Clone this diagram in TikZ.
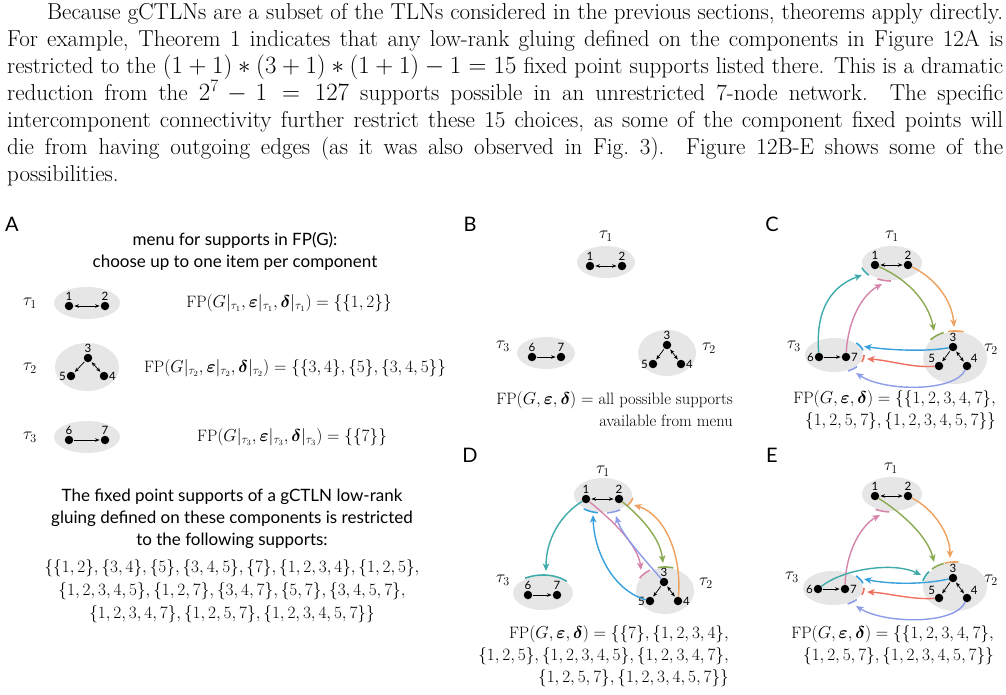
\documentclass[tikz,border=0pt]{standalone}
\usepackage{amsmath}
\usepackage{fontspec}
\setsansfont{Lato}
\usetikzlibrary{arrows.meta,shapes.geometric}
\definecolor{cteal}{RGB}{62,170,170}
\definecolor{cpink}{RGB}{214,132,172}
\definecolor{cgreen}{RGB}{138,170,82}
\definecolor{corange}{RGB}{238,160,92}
\definecolor{cblue}{RGB}{56,160,220}
\definecolor{cred}{RGB}{240,112,96}
\definecolor{clav}{RGB}{140,156,232}
\definecolor{compgray}{RGB}{230,230,230}
\newcommand{\ctick}[7]{\draw[tk,#1] plot[domain=#6:#7,samples=12,smooth] ({#2+#4*cos(\x)},{#3+#5*sin(\x)});}
\newcommand{\bfe}{\boldsymbol{\varepsilon}}
\newcommand{\bfd}{\boldsymbol{\delta}}
\tikzset{
 dot/.style={circle,fill=black,inner sep=0pt,minimum size=8.5pt},
 comp/.style={ellipse,fill=compgray,inner sep=0pt,draw=none},
 ia/.style={-{Stealth[length=4.5pt,width=3.6pt]},line width=0.75pt,shorten >=1pt,shorten <=1pt},
 iab/.style={{Stealth[length=4.5pt,width=3.6pt]}-{Stealth[length=4.5pt,width=3.6pt]},line width=0.75pt,shorten >=1pt,shorten <=1pt},
 conn/.style={-{Stealth[length=7.5pt,width=6.5pt,inset=2pt]},line width=1.4pt},
 tk/.style={line width=1.6pt},
 nlab/.style={font=\sffamily\fontsize{11.5}{12}\selectfont,inner sep=0.5pt},
 plab/.style={font=\sffamily\fontsize{20}{22}\selectfont,inner sep=0pt},
 tlab/.style={font=\fontsize{17}{20}\selectfont,inner sep=0pt},
 mtxt/.style={font=\fontsize{16.5}{22}\selectfont,inner sep=0pt},
 sftxt/.style={font=\sffamily\fontsize{17}{22}\selectfont,align=center,inner sep=0pt},
 para/.style={font=\fontsize{23}{27}\selectfont,inner sep=0pt,anchor=base west},
}
\begin{document}
\begin{tikzpicture}[x=1pt,y=-1pt]
\fill[white] (0,0) rectangle (1006,695);
\useasboundingbox (0,0) rectangle (1006,695);
% paragraph
\node[para] (p1) at (47,20) {\makebox[956pt][s]{Because gCTLNs are a subset of the TLNs considered in the previous sections, theorems apply directly.}};
\node[para] (p2) at (7,47) {\makebox[996pt][s]{For example, Theorem 1 indicates that any low-rank gluing defined on the components in Figure 12A is}};
\node[para] (p3) at (7,74) {\makebox[996pt][s]{restricted to the $(1+1)*(3+1)*(1+1)-1=15$ fixed point supports listed there. This is a dramatic}};
\node[para] (p4) at (7,101) {\makebox[996pt][s]{reduction from the $2^7-1=127$ supports possible in an unrestricted 7-node network.\ \ The specific}};
\node[para] (p5) at (7,128) {\makebox[996pt][s]{intercomponent connectivity further restrict these 15 choices, as some of the component fixed points will}};
\node[para] (p6) at (7,155) {\makebox[996pt][s]{die from having outgoing edges (as it was also observed in Fig.\ 3).\ \ Figure 12B-E shows some of the}};
\node[para] (p7) at (7,182) {possibilities.};
% panel labels
\node[plab] (lA) at (12,224) {A};
\node[plab] (lB) at (470,224) {B};
\node[plab] (lC) at (772,224) {C};
\node[plab] (lD) at (470,455) {D};
\node[plab] (lE) at (772,455) {E};
% ---------------- Panel A
\node[sftxt] (menu) at (235,251) {menu for supports in FP(G):\\choose up to one item per component};
\node[tlab] (Alt1) at (30,303) {$\tau_1$};
\node[comp,minimum width=66pt,minimum height=32pt] (At1) at (87,303) {};
\node[dot,label={[nlab]above:1}] (A1) at (69,306) {};
\node[dot,label={[nlab]above:2}] (A2) at (105,306) {};
\draw[iab] (A1) -- (A2);
\node[mtxt] (Af1) at (289,303) {$\mathrm{FP}(G|_{\tau_1},\bfe|_{\tau_1},\bfd|_{\tau_1})=\{\{1,2\}\}$};
\node[tlab] (Alt2) at (30,368) {$\tau_2$};
\node[comp,minimum width=64pt,minimum height=48pt] (At2) at (87,367) {};
\node[dot,label={[nlab]above:3}] (A3) at (88,358) {};
\node[dot,label={[nlab]left:5}] (A5) at (71,376) {};
\node[dot,label={[nlab]right:4}] (A4) at (104,376) {};
\draw[ia] (A3) -- (A5);
\draw[iab] (A3) -- (A4);
\node[mtxt] (Af2) at (295,368) {$\mathrm{FP}(G|_{\tau_2},\bfe|_{\tau_2},\bfd|_{\tau_2})=\{\{3,4\},\{5\},\{3,4,5\}\}$};
\node[tlab] (Alt3) at (30,437) {$\tau_3$};
\node[comp,minimum width=66pt,minimum height=32pt] (At3) at (87,437) {};
\node[dot,label={[nlab]above:6}] (A6) at (69,440) {};
\node[dot,label={[nlab]above:7}] (A7) at (105,440) {};
\draw[ia] (A6) -- (A7);
\node[mtxt] (Af3) at (292,437) {$\mathrm{FP}(G|_{\tau_3},\bfe|_{\tau_3},\bfd|_{\tau_3})=\{\{7\}\}$};
\node[sftxt] (Atxt) at (232,519) {The fixed point supports of a gCTLN low-rank\\gluing defined on these components is restricted\\to the following supports:};
\node[mtxt,align=center] (Alist) at (232,591) {$\{\{1,2\},\{3,4\},\{5\},\{3,4,5\},\{7\},\{1,2,3,4\},\{1,2,5\},$\\[1pt]$\{1,2,3,4,5\},\{1,2,7\},\{3,4,7\},\{5,7\},\{3,4,5,7\},$\\[1pt]$\{1,2,3,4,7\},\{1,2,5,7\},\{1,2,3,4,5,7\}\}$};
% ---------------- Panel B
\node[tlab] (Blt1) at (606,236) {$\tau_1$};
\node[comp,minimum width=58pt,minimum height=32pt] (Bt1) at (606,262) {};
\node[dot,label={[nlab]above:1}] (B1) at (590,266) {};
\node[dot,label={[nlab]above:2}] (B2) at (622,266) {};
\draw[iab] (B1) -- (B2);
\node[tlab] (Blt3) at (503,346) {$\tau_3$};
\node[comp,minimum width=58pt,minimum height=32pt] (Bt3) at (546,353) {};
\node[dot,label={[nlab]above:6}] (B6) at (532,357) {};
\node[dot,label={[nlab]above:7}] (B7) at (561,357) {};
\draw[ia] (B6) -- (B7);
\node[comp,minimum width=58pt,minimum height=46pt] (Bt2) at (667,353) {};
\node[dot,label={[nlab]above:3}] (B3) at (667,345) {};
\node[dot,label={[nlab]left:5}] (B5) at (653,364) {};
\node[dot,label={[nlab]right:4}] (B4) at (681,364) {};
\draw[ia] (B3) -- (B5);
\draw[iab] (B3) -- (B4);
\node[tlab] (Blt2) at (709,348) {$\tau_2$};
\node[mtxt,anchor=east] (Bf1) at (733,400) {$\mathrm{FP}(G,\bfe,\bfd)=$ all possible supports};
\node[mtxt,anchor=east] (Bf2) at (733,421) {available from menu};
% ---------------- Panel C
\node[tlab] (Clt1) at (892,236) {$\tau_1$};
\node[comp,minimum width=60pt,minimum height=34pt] (Ct1) at (892,263) {};
\node[dot,label={[nlab]above:1}] (C1) at (875,265) {};
\node[dot,label={[nlab]above:2}] (C2) at (908,265) {};
\draw[iab] (C1) -- (C2);
\node[tlab] (Clt3) at (794,346) {$\tau_3$};
\node[comp,minimum width=58pt,minimum height=34pt] (Ct3) at (834,355) {};
\node[dot,label={[nlab]left:6}] (C6) at (819,357) {};
\node[dot,label={[nlab]right:7}] (C7) at (846,357) {};
\draw[ia] (C6) -- (C7);
\node[comp,minimum width=64pt,minimum height=52pt] (Ct2) at (955,358) {};
\node[dot,label={[nlab]above:3}] (C3) at (953,347) {};
\node[dot,label={[nlab]north west:5}] (C5) at (939,366) {};
\node[dot,label={[nlab]north east:4}] (C4) at (967,366) {};
\draw[ia] (C3) -- (C5);
\draw[iab] (C3) -- (C4);
\node[tlab] (Clt2) at (991,349) {$\tau_2$};
\coordinate (Cteal) at (862,275);
\coordinate (Cpink) at (882,284);
\coordinate (Cgreen) at (934,331);
\coordinate (Corange) at (954,327);
\coordinate (Cblue) at (864,346.5);
\coordinate (Cred) at (867,359);
\coordinate (Clav) at (856,373);
\ctick{cteal}{892}{263}{31}{18}{138}{165}
\ctick{cpink}{892}{263}{31}{18}{92}{118}
\ctick{cgreen}{955}{358}{33}{27}{222}{250}
\ctick{corange}{955}{358}{33}{27}{258}{285}
\ctick{cblue}{834}{355}{30}{18}{318}{345}
\ctick{cred}{834}{355}{30}{18}{0}{22}
\ctick{clav}{834}{355}{30}{18}{40}{62}
\draw[conn,cteal] (C6) .. controls (815,305) and (835,285) .. (Cteal);
\draw[conn,cpink] (C7) .. controls (848,320) and (862,295) .. (Cpink);
\draw[conn,cgreen] (C1) .. controls (905,278) and (928,300) .. (Cgreen);
\draw[conn,corange] (C2) .. controls (935,278) and (952,300) .. (Corange);
\draw[conn,cblue] (C3) .. controls (925,352) and (890,350) .. (Cblue);
\draw[conn,cred] (C5) .. controls (912,368) and (888,360) .. (Cred);
\draw[conn,clav] (C4) .. controls (955,392) and (885,392) .. (Clav);
\node[mtxt,anchor=east] (Cf1) at (996,399) {$\mathrm{FP}(G,\bfe,\bfd)=\{\{1,2,3,4,7\},$};
\node[mtxt,anchor=east] (Cf2) at (996,421) {$\{1,2,5,7\},\{1,2,3,4,5,7\}\}$};
% ---------------- Panel D
\node[tlab] (Dlt1) at (603,471) {$\tau_1$};
\node[comp,minimum width=58pt,minimum height=34pt] (Dt1) at (603,495) {};
\node[dot,label={[nlab]above:1}] (D1) at (586,499) {};
\node[dot,label={[nlab]above:2}] (D2) at (619,499) {};
\draw[iab] (D1) -- (D2);
\node[tlab] (Dlt3) at (503,580) {$\tau_3$};
\node[comp,minimum width=60pt,minimum height=34pt] (Dt3) at (543,593) {};
\node[dot,label={[nlab]above:6}] (D6) at (528,595) {};
\node[dot,label={[nlab]above:7}] (D7) at (557,595) {};
\draw[ia] (D6) -- (D7);
\node[comp,minimum width=58pt,minimum height=46pt] (Dt2) at (665,591) {};
\node[dot,label={[nlab]above:3}] (D3) at (664,582) {};
\node[dot,label={[nlab]left:5}] (D5) at (650,601) {};
\node[dot,label={[nlab]right:4}] (D4) at (678,601) {};
\draw[ia] (D3) -- (D5);
\draw[iab] (D3) -- (D4);
\node[tlab] (Dlt2) at (706,583) {$\tau_2$};
\coordinate (Dteal) at (546,571);
\coordinate (Dpink) at (641,570);
\coordinate (Dgreen) at (663,563);
\coordinate (Dlav) at (616,516);
\coordinate (Dblue) at (593,515);
\coordinate (Dorange) at (634,505);
\ctick{cblue}{603}{495}{30}{18}{100}{130}
\ctick{clav}{603}{495}{30}{18}{55}{82}
\ctick{corange}{603}{495}{30}{18}{8}{38}
\ctick{cteal}{543}{593}{31}{18}{235}{320}
\ctick{cpink}{665}{591}{30}{24}{212}{240}
\ctick{cgreen}{665}{591}{30}{24}{256}{286}
\draw[conn,cteal] (D1) .. controls (560,515) and (546,540) .. (Dteal);
\draw[conn,cpink] (D1) .. controls (612,520) and (638,545) .. (Dpink);
\draw[conn,cgreen] (D2) .. controls (642,518) and (660,538) .. (Dgreen);
\draw[conn,clav] (D3) .. controls (645,560) and (622,535) .. (Dlav);
\draw[conn,cblue] (D5) .. controls (612,590) and (594,550) .. (Dblue);
\draw[conn,corange] (D4) .. controls (682,555) and (665,515) .. (Dorange);
\node[mtxt,anchor=east] (Df1) at (729,634) {$\mathrm{FP}(G,\bfe,\bfd)=\{\{7\},\{1,2,3,4\},$};
\node[mtxt,anchor=east] (Df2) at (729,656) {$\{1,2,5\},\{1,2,3,4,5\},\{1,2,3,4,7\},$};
\node[mtxt,anchor=east] (Df3) at (729,678) {$\{1,2,5,7\},\{1,2,3,4,5,7\}\}$};
% ---------------- Panel E
\node[tlab] (Elt1) at (891,468) {$\tau_1$};
\node[comp,minimum width=60pt,minimum height=34pt] (Et1) at (892,494) {};
\node[dot,label={[nlab]above:1}] (E1) at (875,496) {};
\node[dot,label={[nlab]above:2}] (E2) at (908,496) {};
\draw[iab] (E1) -- (E2);
\node[tlab] (Elt3) at (792,577) {$\tau_3$};
\node[comp,minimum width=60pt,minimum height=34pt] (Et3) at (833,588) {};
\node[dot,label={[nlab]left:6}] (E6) at (818,589) {};
\node[dot,label={[nlab]right:7}] (E7) at (845,589) {};
\draw[ia] (E6) -- (E7);
\node[comp,minimum width=64pt,minimum height=48pt] (Et2) at (955,587) {};
\node[dot,label={[nlab]above:3}] (E3) at (953,578) {};
\node[dot,label={[nlab]north west:5}] (E5) at (939,598) {};
\node[dot,label={[nlab]north east:4}] (E4) at (967,598) {};
\draw[ia] (E3) -- (E5);
\draw[iab] (E3) -- (E4);
\node[tlab] (Elt2) at (991,580) {$\tau_2$};
\coordinate (Epink) at (880,515);
\coordinate (Egreen) at (934,562);
\coordinate (Eorange) at (950,558);
\coordinate (Eteal) at (921,575);
\coordinate (Eblue) at (864,579);
\coordinate (Ered) at (867,592);
\coordinate (Elav) at (856,606);
\ctick{cpink}{892}{494}{31}{18}{95}{122}
\ctick{cgreen}{955}{587}{33}{25}{226}{250}
\ctick{corange}{955}{587}{33}{25}{252}{276}
\ctick{cteal}{955}{587}{33}{25}{194}{218}
\ctick{cblue}{833}{588}{31}{18}{318}{345}
\ctick{cred}{833}{588}{31}{18}{0}{22}
\ctick{clav}{833}{588}{31}{18}{40}{62}
\draw[conn,cpink] (E7) .. controls (846,550) and (862,525) .. (Epink);
\draw[conn,cgreen] (E1) .. controls (905,515) and (928,538) .. (Egreen);
\draw[conn,corange] (E2) .. controls (935,510) and (950,535) .. (Eorange);
\draw[conn,cteal] (E6) .. controls (845,568) and (895,562) .. (Eteal);
\draw[conn,cblue] (E3) .. controls (922,585) and (888,584) .. (Eblue);
\draw[conn,cred] (E5) .. controls (912,600) and (888,593) .. (Ered);
\draw[conn,clav] (E4) .. controls (955,625) and (885,624) .. (Elav);
\node[mtxt,anchor=east] (Ef1) at (994,634) {$\mathrm{FP}(G,\bfe,\bfd)=\{\{1,2,3,4,7\},$};
\node[mtxt,anchor=east] (Ef2) at (994,656) {$\{1,2,5,7\},\{1,2,3,4,5,7\}\}$};
\end{tikzpicture}
\end{document}
